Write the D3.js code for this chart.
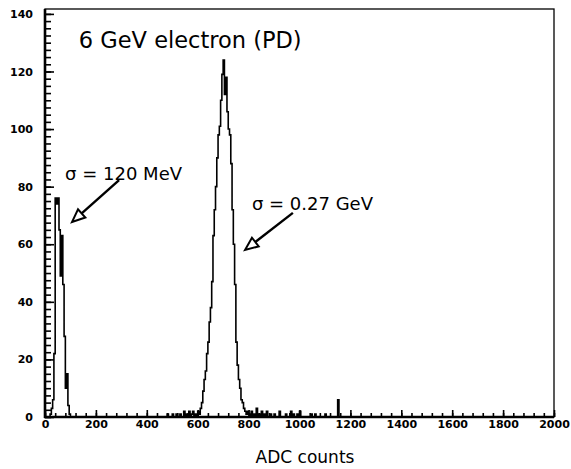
<!DOCTYPE html>
<html>
<head>
<meta charset="utf-8">
<script src="https://cdn.jsdelivr.net/npm/d3@7"></script>
<style>
body { margin: 0; background: #fff; }
svg { display: block; }
</style>
</head>
<body>
<script>
// histogram contents: lower edge of each non-empty 5-count bin, and its entries
var binLow = [
    20, 25, 30, 35, 40, 45, 50, 55, 60, 65, 70, 75, 80, 85, 90, 95,
    480, 500, 515, 530, 545, 555, 565, 575, 580,
    590, 600, 605, 610, 615, 620, 625, 630, 635, 640, 645, 650, 655, 660, 665, 670,
    675, 680, 685, 690, 695, 700, 705, 710, 715, 720, 725, 730, 735, 740, 745, 750,
    755, 760, 765, 770, 775, 780, 785, 790, 795, 800,
    810, 820, 830, 840, 850, 860, 870, 885, 900, 920, 945, 965, 975, 990, 1000,
    1045, 1060, 1100, 1150
];
var binCount = [
    1, 3, 6, 22, 76, 74, 76, 65, 49, 63, 46, 28, 10, 15, 4, 1,
    1, 1, 1, 1, 2, 1, 2, 1, 2,
    1, 2, 1, 3, 5, 9, 13, 16, 22, 26, 33, 38, 47, 63, 72, 80,
    90, 98, 101, 110, 119, 124, 112, 118, 106, 100, 98, 88, 72, 60, 46, 26,
    18, 13, 10, 6, 5, 3, 2, 1, 2, 1,
    2, 1, 3, 1, 2, 1, 2, 1, 1, 2, 1, 2, 1, 1, 2,
    1, 1, 1, 6
];
var binWidth = 5;

var xMajor = [0, 200, 400, 600, 800, 1000, 1200, 1400, 1600, 1800, 2000];
var yMajor = [0, 20, 40, 60, 80, 100, 120, 140];

var width = 571, height = 469;
var mLeft = 45, mRight = 554, mTop = 9, mBottom = 417;

var svg = d3.select("body").append("svg")
    .attr("width", width)
    .attr("height", height);

var x = d3.scaleLinear().domain([0, 2000]).range([mLeft, mRight]);
var y = d3.scaleLinear().domain([0, 141.7]).range([mBottom, mTop]);

// frame
svg.append("rect")
    .attr("x", mLeft).attr("y", mTop)
    .attr("width", mRight - mLeft).attr("height", mBottom - mTop)
    .attr("fill", "none").attr("stroke", "#000").attr("stroke-width", 1.3);

// minor ticks
var yMinor = svg.append("g")
    .attr("transform", "translate(" + mLeft + ",0)")
    .call(d3.axisLeft(y).tickValues(d3.range(0, 141, 2.5)).tickSize(-6).tickFormat(""));
var xMinor = svg.append("g")
    .attr("transform", "translate(0," + mBottom + ")")
    .call(d3.axisBottom(x).tickValues(d3.range(0, 2001, 40)).tickSize(-4).tickFormat(""));

// major ticks + labels
var yAxis = svg.append("g")
    .attr("transform", "translate(" + mLeft + ",0)")
    .call(d3.axisLeft(y).tickValues(yMajor).tickSize(-9).tickPadding(12).tickFormat(d3.format("d")));
var xAxis = svg.append("g")
    .attr("transform", "translate(0," + mBottom + ")")
    .call(d3.axisBottom(x).tickValues(xMajor).tickSize(-7).tickPadding(3).tickFormat(d3.format("d")));

[yMinor, xMinor, yAxis, xAxis].forEach(function (g) {
    g.select(".domain").remove();
    g.selectAll("line").attr("stroke", "#000").attr("stroke-width", 1.6);
    g.selectAll("text")
        .attr("fill", "#000")
        .style("font-family", "'DejaVu Sans', sans-serif")
        .style("font-weight", "bold")
        .style("font-size", "11px");
});

// thick left and bottom axis lines
svg.append("line")
    .attr("x1", mLeft).attr("x2", mLeft).attr("y1", mTop).attr("y2", mBottom + 1)
    .attr("stroke", "#000").attr("stroke-width", 2.6);
svg.append("line")
    .attr("x1", mLeft - 1).attr("x2", mRight).attr("y1", mBottom).attr("y2", mBottom)
    .attr("stroke", "#000").attr("stroke-width", 2.6);

// histogram outline
var lookup = new Map(binLow.map(function (b, i) { return [b, binCount[i]]; }));
var steps = d3.range(0, 2000, binWidth).map(function (b) { return [b, lookup.get(b) || 0]; });
steps.push([2000, 0]);

var line = d3.line()
    .x(function (d) { return x(d[0]); })
    .y(function (d) { return y(d[1]); })
    .curve(d3.curveStepAfter);

svg.append("path")
    .datum(steps)
    .attr("d", line)
    .attr("fill", "none")
    .attr("stroke", "#000")
    .attr("stroke-width", 1.6);

// texts
function label(txt, vx, vy, size) {
    svg.append("text")
        .attr("x", x(vx)).attr("y", y(vy))
        .style("font-family", "'DejaVu Sans', sans-serif")
        .style("font-size", size + "px")
        .attr("fill", "#000")
        .text(txt);
}
label("6 GeV electron (PD)", 133, 128.2, 22.5);
label("σ = 120 MeV", 79, 82.3, 18);
label("σ = 0.27 GeV", 813, 71.8, 18);

svg.append("text")
    .attr("x", 305).attr("y", 463)
    .attr("text-anchor", "middle")
    .style("font-family", "'DejaVu Sans', sans-serif")
    .style("font-size", "17px")
    .attr("fill", "#000")
    .text("ADC counts");

// arrows with open heads
function arrow(from, to) {
    var x1 = x(from[0]), y1 = y(from[1]), x2 = x(to[0]), y2 = y(to[1]);
    var a = Math.atan2(y2 - y1, x2 - x1);
    var len = 13, half = 5.5;
    var bx = x2 - len * Math.cos(a), by = y2 - len * Math.sin(a);
    var px = -Math.sin(a) * half, py = Math.cos(a) * half;
    svg.append("line")
        .attr("x1", x1).attr("y1", y1).attr("x2", bx).attr("y2", by)
        .attr("stroke", "#000").attr("stroke-width", 2.4);
    svg.append("polygon")
        .attr("points", [[x2, y2], [bx + px, by + py], [bx - px, by - py]])
        .attr("fill", "#fff").attr("stroke", "#000").attr("stroke-width", 2);
}
arrow([291, 82.3], [106, 67.7]);
arrow([974, 70.9], [786, 58]);
</script>
</body>
</html>
